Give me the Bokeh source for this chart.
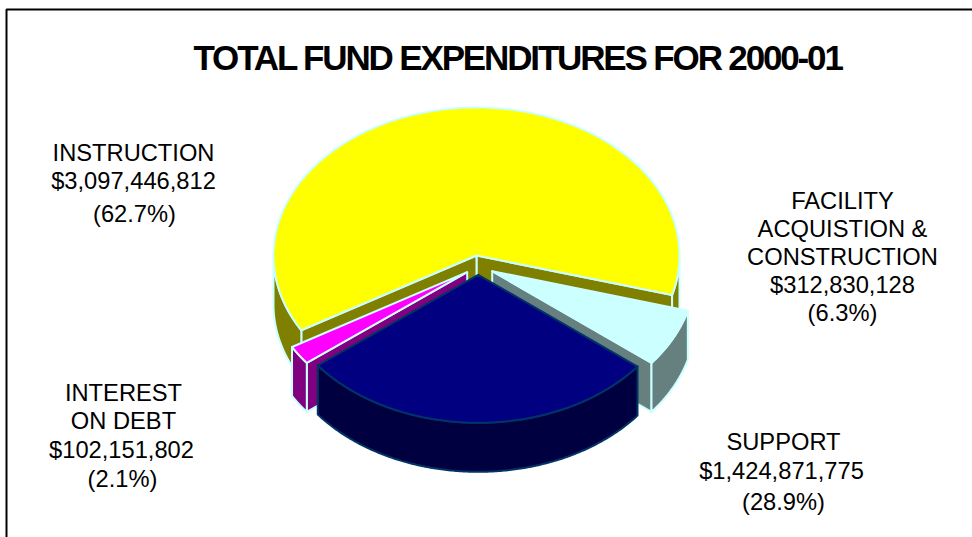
import numpy as np
from bokeh.core.properties import value
from bokeh.embed import file_html
from bokeh.plotting import figure
from bokeh.resources import INLINE

# ---- data ----
categories = ["INSTRUCTION", "INTEREST ON DEBT", "SUPPORT", "FACILITY ACQUISTION & CONSTRUCTION"]
amounts = [3097446812, 102151802, 1424871775, 312830128]
title_text = "TOTAL FUND EXPENDITURES FOR 2000-01"
label_lines = [
    ["INSTRUCTION", "$3,097,446,812", "(62.7%)"],
    ["INTEREST", "ON DEBT", "$102,151,802", "(2.1%)"],
    ["SUPPORT", "$1,424,871,775", "(28.9%)"],
    ["FACILITY", "ACQUISTION &", "CONSTRUCTION", "$312,830,128", "(6.3%)"],
]

# ---- styling / layout ----
top_colors = ["#FFFF00", "#FF00FF", "#000080", "#CCFFFF"]
side_colors = ["#808000", "#800080", "#000040", "#668080"]
edge_colors = ["#CCFFFF", "#CCFFFF", "#003366", "#CCFFFF"]
apexes = [(476, 255), (466.7, 271.7), (477.7, 274.3), (491.7, 270.7)]
paint_order = [0, 3, 1, 2]
RX, RY, DEPTH = 203, 148, 49
START_DEG = -15.5          # screen-up angle where the first slice begins
label_xy = [
    [(133, 152), (133, 180), (134, 213)],
    [(123, 392), (123, 420), (121, 449), (122, 478)],
    [(783, 441), (781, 470), (783, 501)],
    [(842, 200), (842, 228), (842, 256), (842, 284), (842, 312)],
]

W, H = 972, 537
p = figure(width=W, height=H, x_range=(0, W), y_range=(H, 0), toolbar_location=None,
           output_backend="svg", min_border=0, outline_line_color=None,
           styles={"position": "absolute", "left": "0px", "top": "0px"})
p.axis.visible = False
p.grid.visible = False

# frame
p.line([6, 6, W], [H, 9, 9], line_color="black", line_width=2)

total = sum(amounts)
fractions = [a / total for a in amounts]
bounds = START_DEG + 360 * np.cumsum([0] + fractions)


def arc(apex, a0, a1):
    t = np.radians(np.linspace(a0, a1, 200))
    return apex[0] + RX * np.cos(t), apex[1] - RY * np.sin(t)


for i in paint_order:
    a0, a1 = bounds[i], bounds[i + 1]
    ax, ay = apexes[i]
    xs, ys = arc(apexes[i], a0, a1)
    style = dict(line_color=edge_colors[i], line_width=2, line_join="round")
    # cut faces: only those turned towards the viewer
    if np.cos(np.radians(a0)) > 0:
        p.patch([ax, xs[0], xs[0], ax], [ay, ys[0], ys[0] + DEPTH, ay + DEPTH],
                fill_color=side_colors[i], **style)
    if np.cos(np.radians(a1)) < 0:
        p.patch([ax, xs[-1], xs[-1], ax], [ay, ys[-1], ys[-1] + DEPTH, ay + DEPTH],
                fill_color=side_colors[i], **style)
    # outer rim: only the front half of the ellipse
    for lo, hi in ((-180, 0), (180, 360)):
        b0, b1 = max(a0, lo), min(a1, hi)
        if b1 > b0:
            rx, ry = arc(apexes[i], b0, b1)
            p.patch(np.r_[rx, rx[::-1]], np.r_[ry, ry[::-1] + DEPTH],
                    fill_color=side_colors[i], **style)
    # top surface
    p.patch(np.r_[ax, xs], np.r_[ay, ys], fill_color=top_colors[i], **style)

for lines, xy in zip(label_lines, label_xy):
    p.text([q[0] for q in xy], [q[1] for q in xy], text=lines,
           text_font=value("Liberation Sans"), text_font_size="23.7px", text_color="black",
           text_align="center", text_baseline="middle")

# title lives in its own figure so that its tight letter spacing stays local
t = figure(width=700, height=50, x_range=(0, 700), y_range=(50, 0), toolbar_location=None,
           output_backend="svg", min_border=0, outline_line_color=None,
           background_fill_alpha=0, border_fill_alpha=0,
           styles={"position": "absolute", "left": "190px", "top": "32px",
                   "letter-spacing": "-2.15px"})
t.axis.visible = False
t.grid.visible = False
t.text([3], [25], text=[title_text], text_font=value("Liberation Sans"), text_font_size="35px",
       text_font_style="bold", text_color="black", text_align="left", text_baseline="middle")

open("out.html", "w").write(file_html([p, t], INLINE))
